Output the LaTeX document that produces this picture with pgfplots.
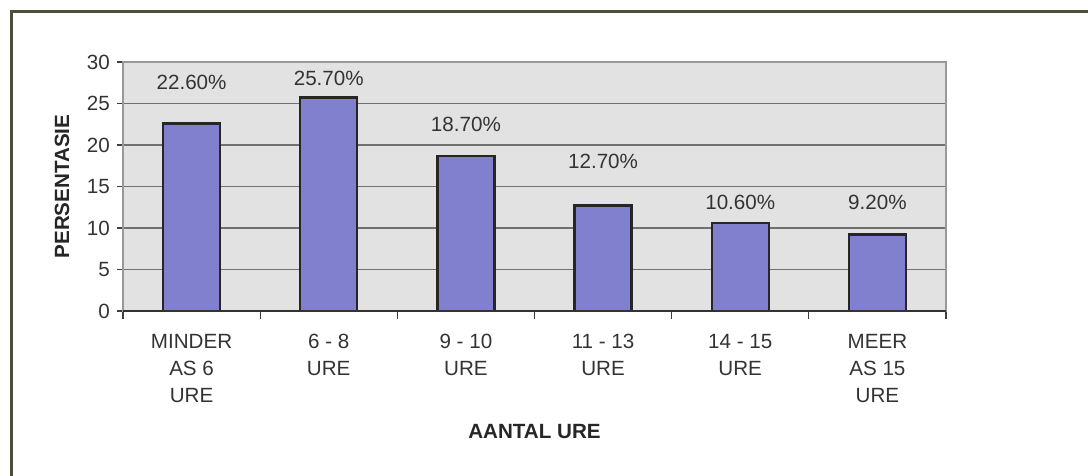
\documentclass[border=0pt]{standalone}
\usepackage{pgfplots}
\pgfplotsset{compat=1.18}
\usepackage{fontspec}
\setmainfont{Liberation Sans}
\definecolor{barblue}{RGB}{128,128,206}
\definecolor{bggray}{RGB}{226,226,226}
\definecolor{gridgray}{RGB}{112,112,112}
\definecolor{framecol}{RGB}{74,80,60}
\begin{document}
\fontsize{10.3}{13.5}\selectfont
\begin{tikzpicture}
\path[use as bounding box] (0,0) rectangle (544pt,238pt);
\draw[framecol, line width=1.5pt] (5.5pt,0) -- (5.5pt,232pt) -- (544pt,232pt);
\begin{axis}[
  at={(61.5pt,82.5pt)}, anchor=south west,
  scale only axis, width=411.5pt, height=124.5pt,
  xmin=-0.5, xmax=5.5, ymin=0, ymax=30,
  ytick={0,5,...,30},
  xtick={0,1,2,3,4,5},
  xticklabels={{MINDER\\AS 6\\URE},{6 - 8\\URE},{9 - 10\\URE},{11 - 13\\URE},{14 - 15\\URE},{MEER\\AS 15\\URE}},
  xticklabel style={align=center, yshift=-5pt, font=\fontsize{10.3}{13.5}\selectfont, text=black!80},
  yticklabel style={font=\fontsize{10.3}{13.5}\selectfont, text=black!80},
  /pgf/number format/assume math mode=true,
  tick pos=left,
  major x tick style={draw=none},
  minor xtick={-0.5,0.5,...,5.5},
  minor tick length=4pt,
  major tick length=3pt,
  tick align=outside,
  tick style={black!75, line width=0.6pt},
  ymajorgrids,
  grid style={gridgray, line width=0.7pt},
  axis line style={gray!80, line width=0.7pt},
  axis background/.style={fill=bggray},
  xlabel={\textbf{AANTAL URE}},
  ylabel={\textbf{PERSENTASIE}},
  xlabel style={at={(axis description cs:0.5,-0.486)}, anchor=center, font=\fontsize{10.3}{13.5}\selectfont, text=black!85},
  ylabel style={at={(axis description cs:-0.0741,0.5)}, anchor=center, font=\fontsize{10.3}{13.5}\selectfont, text=black!85},
  clip=false,
]
\addplot[ybar, bar width=0.415, fill=barblue, draw=black!85, line width=1.2pt]
  coordinates {(0,22.6) (1,25.7) (2,18.7) (3,12.7) (4,10.6) (5,9.2)};
\draw[black!80, line width=1pt] (rel axis cs:0,0) -- (rel axis cs:1,0);
\node[text=black!80] at (axis cs:0,27.6) {22.60\%};
\node[text=black!80] at (axis cs:1,28.0) {25.70\%};
\node[text=black!80] at (axis cs:2,22.5) {18.70\%};
\node[text=black!80] at (axis cs:3,18.0) {12.70\%};
\node[text=black!80] at (axis cs:4,13.1) {10.60\%};
\node[text=black!80] at (axis cs:5,13.1) {9.20\%};
\end{axis}
\end{tikzpicture}
\end{document}
